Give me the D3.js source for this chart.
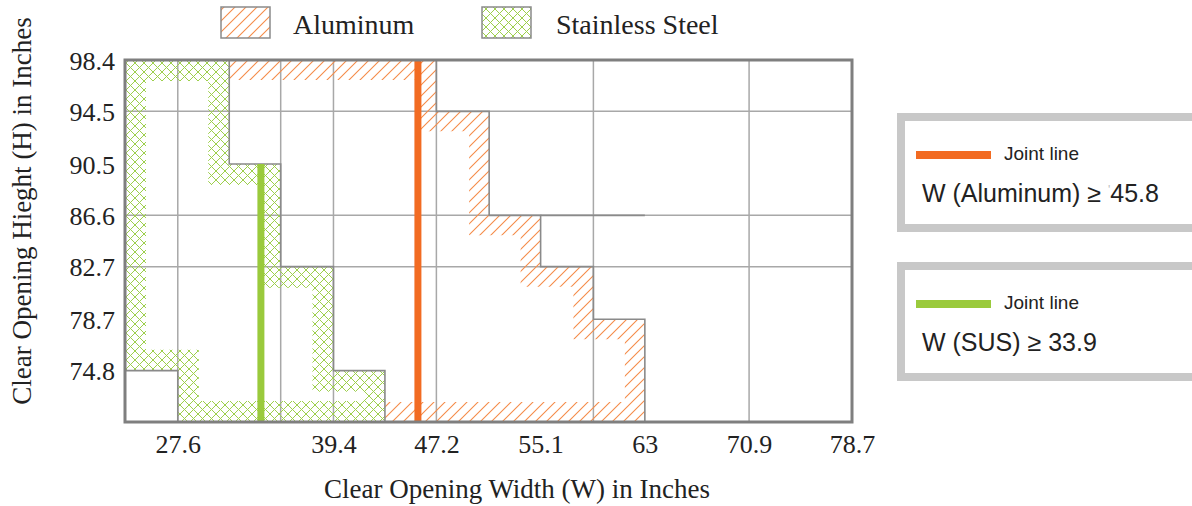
<!DOCTYPE html>
<html>
<head>
<meta charset="utf-8">
<script src="https://cdn.jsdelivr.net/npm/d3@7"></script>
<style>
  html, body { margin: 0; padding: 0; background: #fff; }
  svg { display: block; }
</style>
</head>
<body>
<svg id="chart" width="1192" height="506"></svg>
<script>
// ---- data (inches) ----
const xTickValues = [27.6, 39.4, 47.2, 55.1, 63, 70.9, 78.7];
const xTickLabels = ["27.6", "39.4", "47.2", "55.1", "63", "70.9", "78.7"];
const yTickValues = [98.4, 94.5, 90.5, 86.6, 82.7, 78.7, 74.8];
const yTickLabels = ["98.4", "94.5", "90.5", "86.6", "82.7", "78.7", "74.8"];
const xGridValues = [27.6, 35.4, 39.4, 47.2, 59.1, 70.9];
const yGridValues = [94.5, 86.6, 82.7];

// Stainless steel region outline
const steelW = [23.6, 31.5, 31.5, 35.4, 35.4, 39.4, 39.4, 43.3, 43.3, 27.6, 27.6, 23.6];
const steelH = [98.4, 98.4, 90.5, 90.5, 82.7, 82.7, 74.8, 74.8, 70.9, 70.9, 74.8, 74.8];
// Aluminum region: hatched outer edge (top, stairs, bottom)
const aluW = [31.5, 47.2, 47.2, 51.2, 51.2, 55.1, 55.1, 59.1, 59.1, 63, 63, 43.3];
const aluH = [98.4, 98.4, 94.5, 94.5, 86.6, 86.6, 82.7, 82.7, 78.7, 78.7, 70.9, 70.9];
// Aluminum region: inner edge shared with stainless steel
const aluInnerW = [43.3, 43.3, 39.4, 39.4, 35.4, 35.4, 31.5, 31.5];
const aluInnerH = [70.9, 74.8, 74.8, 82.7, 82.7, 90.5, 90.5, 98.4];

const series = ["Aluminum", "Stainless Steel"];
const jointW = [45.8, 33.9];          // joint line positions
const jointTop = [98.4, 90.5];        // joint line upper ends
const boxTexts = ["W (Aluminum) ≥ ", "W (SUS) ≥ 33.9"];
const colors = ["#F26B22", "#9ACA3C"];

// ---- layout ----
const svg = d3.select("#chart");
const x = d3.scaleLinear().domain([23.6, 78.7]).range([125, 852]);
const y = d3.scaleLinear().domain([70.9, 98.4]).range([422, 60]);
const serif = "'Liberation Serif', 'Times New Roman', serif";
const sans = "'Liberation Sans', Arial, sans-serif";

const defs = svg.append("defs");
const pa = defs.append("pattern").attr("id", "hatchAlu")
  .attr("patternUnits", "userSpaceOnUse").attr("width", 11).attr("height", 11);
pa.append("path").attr("d", "M0,11 L11,0 M-2,2 L2,-2 M9,13 L13,9")
  .attr("stroke", "#F58B48").attr("stroke-width", 1.1);
const ps = defs.append("pattern").attr("id", "hatchSteel")
  .attr("patternUnits", "userSpaceOnUse").attr("width", 9).attr("height", 9);
ps.append("path").attr("d", "M0,0 L9,9 M0,9 L9,0")
  .attr("stroke", "#9DCF4C").attr("stroke-width", 1);

const pts = (W, H) => W.map((w, i) => [x(w), y(H[i])]);
const line = d3.line();

const steelPts = pts(steelW, steelH);
const aluPts = pts(aluW, aluH);
const aluPoly = aluPts.concat(pts(aluInnerW, aluInnerH));

defs.append("clipPath").attr("id", "clipSteel").append("path").attr("d", line(steelPts) + "Z");
defs.append("clipPath").attr("id", "clipAlu").append("path").attr("d", line(aluPoly) + "Z");

// grid
const g = svg.append("g");
g.selectAll(".gx").data(xGridValues).join("line")
  .attr("x1", d => x(d)).attr("x2", d => x(d)).attr("y1", y(98.4)).attr("y2", y(70.9))
  .attr("stroke", "#A8A8A8").attr("stroke-width", 1.5);
g.selectAll(".gy").data(yGridValues).join("line")
  .attr("x1", x(23.6)).attr("x2", x(78.7)).attr("y1", d => y(d)).attr("y2", d => y(d))
  .attr("stroke", "#A8A8A8").attr("stroke-width", 1.5);

// hatched bands
g.append("path").attr("d", line(steelPts) + "Z")
  .attr("fill", "none").attr("stroke", "url(#hatchSteel)").attr("stroke-width", 42)
  .attr("stroke-linejoin", "miter").attr("stroke-miterlimit", 10)
  .attr("clip-path", "url(#clipSteel)");
g.append("path").attr("d", line(aluPts))
  .attr("fill", "none").attr("stroke", "url(#hatchAlu)").attr("stroke-width", 40)
  .attr("stroke-linejoin", "miter").attr("stroke-miterlimit", 10).attr("stroke-linecap", "butt")
  .attr("clip-path", "url(#clipAlu)");

// region outlines
g.append("path").attr("d", line(steelPts) + "Z")
  .attr("fill", "none").attr("stroke", "#8A8A8A").attr("stroke-width", 1.6);
g.append("path").attr("d", line(aluPts))
  .attr("fill", "none").attr("stroke", "#8A8A8A").attr("stroke-width", 1.6);
g.append("line").attr("x1", x(55.1)).attr("x2", x(63)).attr("y1", y(86.6)).attr("y2", y(86.6))
  .attr("stroke", "#8A8A8A").attr("stroke-width", 1.6);

// joint lines
g.selectAll(".joint").data(jointW).join("line")
  .attr("x1", d => x(d)).attr("x2", d => x(d))
  .attr("y1", (d, i) => y(jointTop[i])).attr("y2", y(70.9))
  .attr("stroke", (d, i) => colors[i]).attr("stroke-width", 7);

// plot border
g.append("rect").attr("x", x(23.6)).attr("y", y(98.4))
  .attr("width", x(78.7) - x(23.6)).attr("height", y(70.9) - y(98.4))
  .attr("fill", "none").attr("stroke", "#7F7F7F").attr("stroke-width", 3);

// axes
const xAxis = d3.axisBottom(x).tickValues(xTickValues)
  .tickFormat((d, i) => xTickLabels[i]).tickSize(0).tickPadding(0);
const xa = svg.append("g").attr("transform", "translate(0,444)").call(xAxis);
xa.select(".domain").remove();
xa.selectAll("text").attr("font-family", serif).attr("font-size", 26)
  .attr("fill", "#222").attr("dy", "0.35em");

const yAxis = d3.axisLeft(y).tickValues(yTickValues)
  .tickFormat((d, i) => yTickLabels[i]).tickSize(0).tickPadding(0);
const ya = svg.append("g").attr("transform", "translate(115,0)").call(yAxis);
ya.select(".domain").remove();
ya.selectAll("text").attr("font-family", serif).attr("font-size", 26)
  .attr("fill", "#222").attr("dy", "0.35em");

svg.append("text").attr("x", 517).attr("y", 498).attr("text-anchor", "middle")
  .attr("font-family", serif).attr("font-size", 27).attr("fill", "#222")
  .text("Clear Opening Width (W) in Inches");
svg.append("text").attr("transform", "translate(31,211) rotate(-90)").attr("text-anchor", "middle")
  .attr("font-family", serif).attr("font-size", 27).attr("fill", "#222")
  .text("Clear Opening Hieght (H) in Inches");

// legend
const legX = [221, 482], legTX = [293, 556];
series.forEach((s, i) => {
  svg.append("rect").attr("x", legX[i]).attr("y", 7).attr("width", 49).attr("height", 31)
    .attr("fill", i === 0 ? "url(#hatchAlu)" : "url(#hatchSteel)")
    .attr("stroke", "#8A8A8A").attr("stroke-width", 1.5);
  svg.append("text").attr("x", legTX[i]).attr("y", 34)
    .attr("font-family", serif).attr("font-size", 28).attr("fill", "#222").text(s);
});

// annotation boxes
const boxY = [113, 262];
boxY.forEach((by, i) => {
  svg.append("rect").attr("x", 901).attr("y", by + 4).attr("width", 295).attr("height", 111)
    .attr("fill", "#fff").attr("stroke", "#C8C8C8").attr("stroke-width", 8);
  svg.append("line").attr("x1", 916).attr("x2", 991).attr("y1", by + 42).attr("y2", by + 42)
    .attr("stroke", colors[i]).attr("stroke-width", 8);
  svg.append("text").attr("x", 1004).attr("y", by + 47)
    .attr("font-family", sans).attr("font-size", 19).attr("fill", "#222").text("Joint line");
  const t = svg.append("text").attr("x", 922).attr("y", by + 89)
    .attr("font-family", sans).attr("font-size", 25).attr("fill", "#222");
  if (i === 0) {
    t.append("tspan").text(boxTexts[0]);
    t.append("tspan").attr("fill", "#bbb").attr("font-size", 12).attr("dy", -8).text("'");
    t.append("tspan").attr("dy", 8).text("45.8");
  } else {
    t.text(boxTexts[1]);
  }
});
</script>
</body>
</html>
